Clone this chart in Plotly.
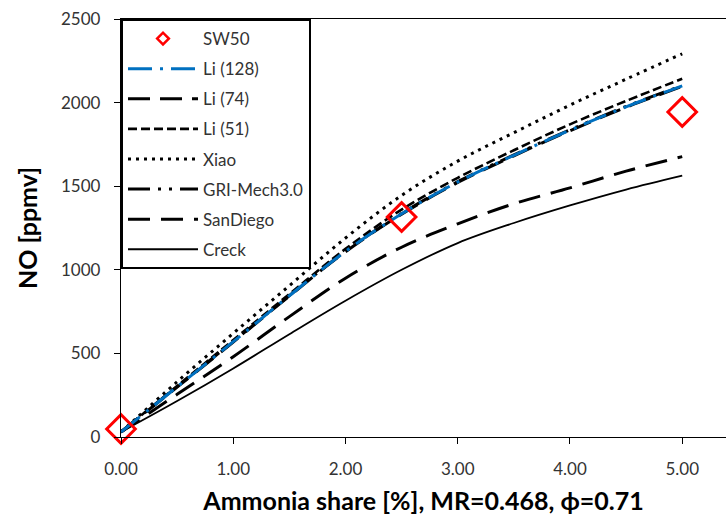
import plotly.graph_objects as go

x_vals = [0, 0.5, 1, 1.5, 2, 2.5, 3, 3.5, 4, 4.5, 5]
sw50_x = [0, 2.5, 5]
sw50_y = [48, 1316, 1944]
li128 = [30, 300, 570, 845, 1110, 1335, 1525, 1685, 1835, 1975, 2100]
li74 = [30, 298, 568, 843, 1108, 1333, 1522, 1682, 1832, 1972, 2097]
li51 = [30, 305, 580, 855, 1125, 1360, 1550, 1715, 1870, 2010, 2143]
xiao = [30, 330, 620, 905, 1190, 1445, 1650, 1820, 1985, 2140, 2292]
gri = [30, 301, 571, 846, 1111, 1337, 1527, 1687, 1837, 1977, 2102]
sandiego = [30, 255, 480, 720, 950, 1135, 1275, 1395, 1490, 1590, 1677]
creck = [30, 215, 410, 615, 815, 1000, 1160, 1280, 1385, 1480, 1563]

FONT = "Lato"
TXT = "#333333"
RED = "#FF0000"

fig = go.Figure()

lines = [
    ("Creck", creck, "black", 1.8, "solid", 8),
    ("SanDiego", sandiego, "black", 3, "22px,11px", 7),
    ("GRI-Mech3.0", gri, "black", 3, "22px,8px,3px,8px,3px,8px", 6),
    ("Xiao", xiao, "black", 3, "3px,5px", 5),
    ("Li (51)", li51, "black", 2.6, "9px,4px", 4),
    ("Li (74)", li74, "black", 3, "22px,10px", 3),
    ("Li (128)", li128, "#0070C0", 3, "24px,8px,3px,8px", 2),
]
for name, ys, col, w, dash, rank in lines:
    fig.add_trace(go.Scatter(
        x=x_vals, y=ys, mode="lines", name=name,
        line=dict(color=col, width=w, dash=dash, shape="spline"),
        legendrank=rank, legendgroup=name,
    ))

# measured points (drawn on top)
fig.add_trace(go.Scatter(
    x=sw50_x, y=sw50_y, mode="markers", name="SW50",
    marker=dict(symbol="diamond-open", size=22, color=RED,
                line=dict(width=3, color=RED)),
    showlegend=False, legendgroup="SW50", cliponaxis=False,
))
# legend entry with a small symbol, as in the original
fig.add_trace(go.Scatter(
    x=[None], y=[None], mode="markers", name="SW50",
    marker=dict(symbol="diamond-open", size=9, color=RED,
                line=dict(width=2.5, color=RED)),
    legendrank=1, legendgroup="SW50",
))

fig.update_layout(
    width=726, height=515,
    margin=dict(l=121, r=0, t=19, b=78),
    paper_bgcolor="white", plot_bgcolor="white",
    font=dict(family=FONT, color=TXT, size=17),
    showlegend=True,
    legend=dict(
        x=0, y=1.0, xanchor="left", yanchor="top",
        bordercolor="black", borderwidth=2, bgcolor="white",
        font=dict(family=FONT, size=17, color=TXT),
        traceorder="grouped", tracegroupgap=5,
        itemwidth=70, maxheight=500,
    ),
    xaxis=dict(
        range=[0, 5.39], tickvals=[0, 1, 2, 3, 4, 5], tickformat=".2f",
        showgrid=False, zeroline=False, showline=True, linecolor="black",
        linewidth=1.3, mirror=True, ticks="outside", ticklen=6,
        tickcolor="black", tickfont=dict(size=17, color=TXT),
        ticklabelstandoff=10,
        title=dict(text="<b>Ammonia share [%], MR=0.468, ϕ=0.71</b>",
                   font=dict(size=25, color="black"), standoff=14),
    ),
    yaxis=dict(
        range=[0, 2500], tickvals=[0, 500, 1000, 1500, 2000, 2500],
        showgrid=False, zeroline=False, showline=True, linecolor="black",
        linewidth=1.3, ticks="outside", ticklen=6, tickcolor="black",
        tickfont=dict(size=17, color=TXT), ticklabelstandoff=10,
        title=dict(text="<b>NO [ppmv]</b>", font=dict(size=25, color="black"),
                   standoff=16),
    ),
)

fig.write_html("out.html")
